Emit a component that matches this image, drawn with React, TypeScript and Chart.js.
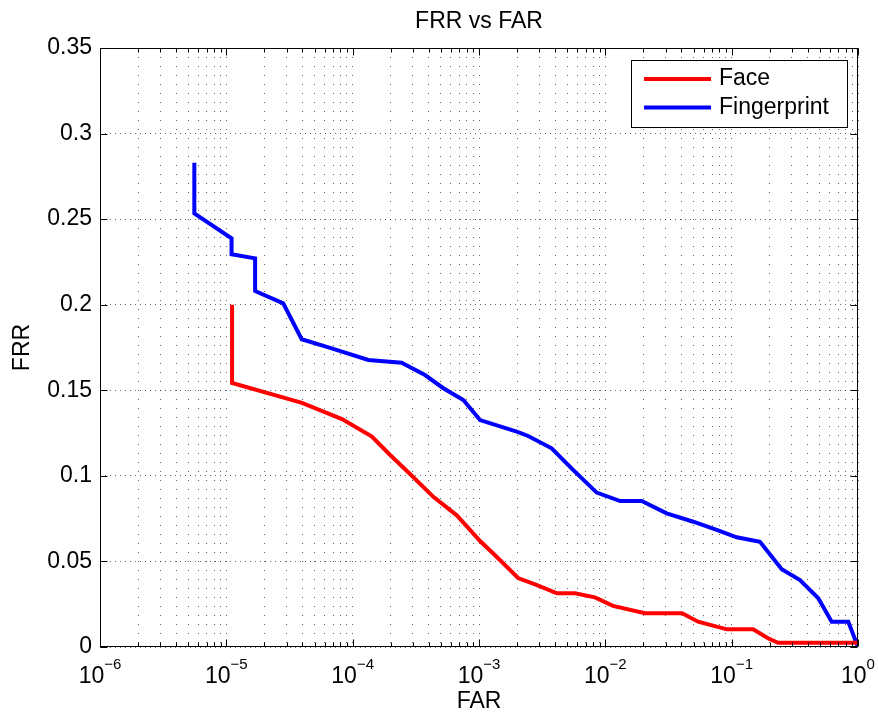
import React, { useEffect, useRef } from 'react';
import { Chart, registerables } from 'chart.js';

Chart.register(...registerables);

// ---- data ----
const faceFAR = [1.11e-5, 1.11e-5, 3.97e-5, 8.23e-5, 1.42e-4, 1.98e-4, 2.9e-4, 4.33e-4, 6.7e-4, 1.02e-3, 1.41e-3, 2.04e-3, 2.88e-3, 4.14e-3, 5.75e-3, 8.28e-3, 1.15e-2, 2.06e-2, 4.05e-2, 5.42e-2, 9.18e-2, 0.148, 0.194, 0.233, 1.0];
const faceFRR = [0.2, 0.1543, 0.1426, 0.1332, 0.123, 0.1122, 0.1005, 0.0879, 0.0768, 0.0619, 0.052, 0.0403, 0.0362, 0.0314, 0.0314, 0.029, 0.024, 0.0197, 0.0197, 0.0148, 0.0103, 0.0103, 0.0051, 0.0025, 0.0025];

const fingerFAR = [5.58e-6, 5.58e-6, 1.1e-5, 1.1e-5, 1.69e-5, 1.69e-5, 2.82e-5, 3.95e-5, 6.82e-5, 1.33e-4, 2.44e-4, 3.74e-4, 5.22e-4, 7.52e-4, 1.02e-3, 1.99e-3, 2.45e-3, 3.76e-3, 5.58e-3, 8.55e-3, 1.31e-2, 1.94e-2, 3.06e-2, 4.97e-2, 7.61e-2, 0.1096, 0.1676, 0.249, 0.3475, 0.485, 0.619, 0.838, 1.0];
const fingerFRR = [0.283, 0.2534, 0.2388, 0.2295, 0.2271, 0.208, 0.2008, 0.1798, 0.1745, 0.1677, 0.1661, 0.1589, 0.1512, 0.1443, 0.1326, 0.1258, 0.1233, 0.1161, 0.1034, 0.0902, 0.0853, 0.0853, 0.0781, 0.0732, 0.0684, 0.0641, 0.0615, 0.0454, 0.0391, 0.0285, 0.0148, 0.0148, 0];

const seriesNames = ['Face', 'Fingerprint'];
const xDecadeExponents = [-6, -5, -4, -3, -2, -1, 0];
const xMinorMultipliers = [2, 3, 4, 5, 6, 7, 8, 9];
const yTickValues = [0, 0.05, 0.1, 0.15, 0.2, 0.25, 0.3, 0.35];
const chartTitle = 'FRR vs FAR';
const xTitle = 'FAR';
const yTitle = 'FRR';

const FONT = "'Liberation Sans', Arial, Helvetica, sans-serif";

function xGridTicks() {
  const out: { value: number; major: boolean }[] = [];
  for (let i = 0; i < xDecadeExponents.length; i++) {
    const e = xDecadeExponents[i];
    out.push({ value: Math.pow(10, e), major: true });
    if (i < xDecadeExponents.length - 1) {
      for (const m of xMinorMultipliers) out.push({ value: m * Math.pow(10, e), major: false });
    }
  }
  return out;
}

const matlabAxes = {
  id: 'matlabAxes',
  afterDatasetsDraw(chart: any) {
    const { ctx, chartArea: ca, scales } = chart;
    const xs = scales.x;
    const ys = scales.y;
    const L = Math.round(ca.left) + 0.5;
    const R = Math.round(ca.right) - 0.5;
    const T = Math.round(ca.top) + 0.5;
    const B = Math.round(ca.bottom) - 0.5;
    ctx.save();
    ctx.setLineDash([]);
    ctx.strokeStyle = '#000';
    ctx.lineWidth = 1;
    // inward ticks
    ctx.beginPath();
    for (const t of xGridTicks()) {
      const px = Math.round(xs.getPixelForValue(t.value)) + 0.5;
      const len = t.major ? 7 : 4;
      ctx.moveTo(px, B);
      ctx.lineTo(px, B - len);
      ctx.moveTo(px, T);
      ctx.lineTo(px, T + len);
    }
    for (const v of yTickValues) {
      const py = Math.round(ys.getPixelForValue(v)) + 0.5;
      ctx.moveTo(L, py);
      ctx.lineTo(L + 7, py);
      ctx.moveTo(R, py);
      ctx.lineTo(R - 7, py);
    }
    ctx.stroke();
    // box
    ctx.strokeRect(L, T, R - L, B - T);

    // x tick labels 10^e
    ctx.fillStyle = '#000';
    ctx.textBaseline = 'alphabetic';
    ctx.textAlign = 'left';
    for (const e of xDecadeExponents) {
      const px = xs.getPixelForValue(Math.pow(10, e));
      const base = '10';
      const exp = e < 0 ? '\u2212' + String(-e) : String(e);
      ctx.font = `23px ${FONT}`;
      const wb = ctx.measureText(base).width;
      ctx.font = `15px ${FONT}`;
      const we = ctx.measureText(exp).width;
      const x0 = px - (wb + we) / 2;
      ctx.font = `23px ${FONT}`;
      ctx.fillText(base, x0, ca.bottom + 36);
      ctx.font = `15px ${FONT}`;
      ctx.fillText(exp, x0 + wb, ca.bottom + 22);
    }

    // legend
    const lx = 631.5, ly = 60.5, lw = 216, lh = 67;
    ctx.fillStyle = '#fff';
    ctx.fillRect(lx, ly, lw, lh);
    ctx.strokeStyle = '#000';
    ctx.lineWidth = 1;
    ctx.strokeRect(lx, ly, lw, lh);
    const rows = [79, 107.5];
    chart.data.datasets.forEach((ds: any, i: number) => {
      ctx.strokeStyle = ds.borderColor;
      ctx.lineWidth = 4;
      ctx.beginPath();
      ctx.moveTo(644, rows[i]);
      ctx.lineTo(711, rows[i]);
      ctx.stroke();
      ctx.fillStyle = '#000';
      ctx.font = `23px ${FONT}`;
      ctx.textBaseline = 'middle';
      ctx.fillText(ds.label, 719, rows[i]);
    });
    ctx.restore();
  },
};

export default function App() {
  const ref = useRef<HTMLCanvasElement | null>(null);
  useEffect(() => {
    if (!ref.current) return;
    const chart = new Chart(ref.current, {
      type: 'line',
      data: {
        datasets: [
          {
            label: seriesNames[0],
            data: faceFAR.map((x, i) => ({ x, y: faceFRR[i] })),
            borderColor: '#ff0000',
            backgroundColor: '#ff0000',
            borderWidth: 4,
            pointRadius: 0,
            tension: 0,
            fill: false,
          },
          {
            label: seriesNames[1],
            data: fingerFAR.map((x, i) => ({ x, y: fingerFRR[i] })),
            borderColor: '#0000ff',
            backgroundColor: '#0000ff',
            borderWidth: 4,
            pointRadius: 0,
            tension: 0,
            fill: false,
          },
        ],
      },
      options: {
        responsive: false,
        animation: false,
        devicePixelRatio: 1,
        layout: { padding: { left: 0, right: 20, top: 0, bottom: 0 } },
        plugins: {
          legend: { display: false },
          tooltip: { enabled: false },
          title: {
            display: true,
            fullSize: false,
            text: chartTitle,
            color: '#000',
            font: { family: FONT, size: 23, weight: 'normal' },
            padding: { top: 7.5, bottom: 12.9 },
          },
        },
        scales: {
          x: {
            type: 'logarithmic',
            min: 1e-6,
            max: 1,
            afterBuildTicks: (s: any) => {
              s.ticks = xGridTicks().map((t) => ({ value: t.value, major: t.major }));
            },
            afterFit: (s: any) => {
              s.height = 68;
            },
            ticks: { display: false },
            grid: { color: 'rgba(0,0,0,0.6)', lineWidth: 1, drawTicks: false },
            border: { display: false, dash: [1, 8] },
            title: {
              display: true,
              text: xTitle,
              color: '#000',
              font: { family: FONT, size: 23, weight: 'normal' },
              padding: { top: 0, bottom: 0 },
            },
          },
          y: {
            type: 'linear',
            min: 0,
            max: 0.35,
            afterBuildTicks: (s: any) => {
              s.ticks = yTickValues.map((v) => ({ value: v }));
            },
            afterFit: (s: any) => {
              s.width = 100;
            },
            ticks: {
              color: '#000',
              padding: 8,
              font: { family: FONT, size: 23 },
              callback: (v: any) => String(Number(Number(v).toFixed(2))),
            },
            grid: { color: 'rgba(0,0,0,0.6)', lineWidth: 1, drawTicks: false },
            border: { display: false, dash: [1, 4] },
            title: {
              display: true,
              text: yTitle,
              color: '#000',
              font: { family: FONT, size: 23, weight: 'normal' },
              padding: { top: 9, bottom: 0 },
            },
          },
        },
      },
      plugins: [matlabAxes],
    });
    return () => chart.destroy();
  }, []);
  return (
    <div style={{ position: 'fixed', left: 0, top: 0, width: 878, height: 715, background: '#fff' }}>
      <canvas ref={ref} width={878} height={715} />
    </div>
  );
}
